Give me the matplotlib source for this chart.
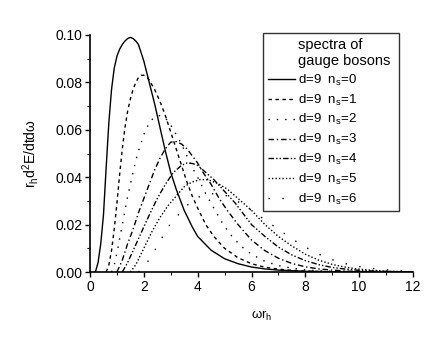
import matplotlib
matplotlib.use('Agg')
import matplotlib.pyplot as plt
from matplotlib.ticker import MultipleLocator

plt.rcParams['font.family'] = ['Liberation Sans', 'DejaVu Sans']
plt.rcParams['mathtext.fontset'] = 'custom'
plt.rcParams['mathtext.rm'] = 'Liberation Sans'
plt.rcParams['mathtext.it'] = 'Liberation Sans'

# ---- data (x = omega*r_h, y = r_h d2E/dtdw) ----
x_n0 = [0.2, 0.3, 0.4, 0.5, 0.6, 0.7, 0.8, 0.9, 1.0, 1.1, 1.2, 1.3, 1.4, 1.5, 1.6, 1.7, 1.8,
        2.0, 2.2, 2.4, 2.6, 2.8, 3.0, 3.2, 3.5, 3.8, 4.0, 4.5, 5.0, 5.5, 6.0, 6.5, 7.0, 8.0, 9.0, 12.0]
y_n0 = [0, 0.004, 0.012, 0.024, 0.044, 0.063, 0.077, 0.086, 0.091, 0.094, 0.096, 0.0975, 0.0985,
        0.099, 0.0985, 0.0975, 0.096, 0.089, 0.080, 0.071, 0.061, 0.051, 0.042, 0.035, 0.026,
        0.019, 0.015, 0.0092, 0.0056, 0.0035, 0.0021, 0.0013, 0.0008, 0.0003, 0.0001, 0]

x_n1 = [0.6, 0.7, 0.8, 0.9, 1.0, 1.1, 1.2, 1.3, 1.4, 1.5, 1.6, 1.7, 1.8, 1.9, 2.0, 2.1, 2.2,
        2.4, 2.6, 2.8, 3.0, 3.2, 3.4, 3.6, 3.8, 4.0, 4.3, 4.6, 5.0, 5.5, 6.0, 6.5, 7.0, 7.5, 8.0, 9.0, 12.0]
y_n1 = [0, 0.003, 0.009, 0.018, 0.029, 0.041, 0.052, 0.061, 0.068, 0.073, 0.077, 0.080, 0.082,
        0.083, 0.083, 0.0825, 0.081, 0.077, 0.072, 0.066, 0.059, 0.052, 0.045, 0.038, 0.032,
        0.027, 0.020, 0.015, 0.010, 0.006, 0.0035, 0.002, 0.0012, 0.0007, 0.0004, 0.0001, 0]

x_n2 = [0.8, 0.9, 1.0, 1.1, 1.2, 1.3, 1.4, 1.5, 1.6, 1.7, 1.8, 2.0, 2.2, 2.4, 2.6, 2.8, 3.0,
        3.2, 3.4, 3.6, 3.8, 4.0, 4.3, 4.6, 4.9, 5.2, 5.6, 6.0, 6.5, 7.0, 7.5, 8.0, 8.5, 9.0, 10.0, 12.0]
y_n2 = [0, 0.003, 0.008, 0.014, 0.020, 0.026, 0.032, 0.037, 0.042, 0.047, 0.051, 0.058, 0.063,
        0.0655, 0.066, 0.065, 0.062, 0.058, 0.054, 0.049, 0.044, 0.040, 0.033, 0.027, 0.021,
        0.016, 0.011, 0.0075, 0.0045, 0.0027, 0.0016, 0.0009, 0.0005, 0.0003, 0.0001, 0]

x_n3 = [1.0, 1.2, 1.4, 1.6, 1.8, 2.0, 2.2, 2.4, 2.6, 2.8, 3.0, 3.2, 3.4, 3.6, 3.8, 4.0, 4.2,
        4.5, 4.8, 5.1, 5.5, 6.0, 6.5, 7.0, 7.5, 8.0, 8.5, 9.0, 9.5, 10.0, 12.0]
y_n3 = [0, 0.005, 0.012, 0.018, 0.025, 0.031, 0.037, 0.043, 0.048, 0.052, 0.0548, 0.055, 0.054,
        0.052, 0.049, 0.046, 0.042, 0.037, 0.031, 0.026, 0.020, 0.0135, 0.009, 0.0058, 0.0036,
        0.0022, 0.0013, 0.0008, 0.0004, 0.0002, 0]

x_n4 = [1.2, 1.4, 1.6, 1.8, 2.0, 2.2, 2.5, 2.8, 3.1, 3.4, 3.6, 3.8, 4.0, 4.3, 4.6, 5.0, 5.4,
        5.8, 6.0, 6.5, 7.0, 7.5, 8.0, 8.5, 9.0, 9.5, 10.0, 10.5, 12.0]
y_n4 = [0, 0.004, 0.009, 0.014, 0.019, 0.024, 0.031, 0.037, 0.042, 0.045, 0.046, 0.0458, 0.045,
        0.042, 0.039, 0.034, 0.029, 0.023, 0.020, 0.015, 0.0105, 0.0072, 0.0048, 0.0031, 0.0019,
        0.0012, 0.0007, 0.0004, 0]

x_n5 = [1.5, 1.7, 2.0, 2.3, 2.6, 2.9, 3.2, 3.5, 3.8, 4.1, 4.3, 4.5, 4.8, 5.1, 5.5, 6.0, 6.5,
        7.0, 7.5, 8.0, 8.5, 9.0, 9.5, 10.0, 10.5, 11.0, 12.0]
y_n5 = [0, 0.003, 0.010, 0.017, 0.023, 0.028, 0.032, 0.036, 0.038, 0.039, 0.039, 0.0385, 0.037,
        0.035, 0.031, 0.026, 0.020, 0.015, 0.011, 0.0075, 0.005, 0.0032, 0.002, 0.0012, 0.0007,
        0.0004, 0]

x_n6 = [1.8, 2.0, 2.3, 2.6, 2.9, 3.2, 3.5, 3.8, 4.1, 4.4, 4.7, 5.0, 5.3, 5.6, 6.0, 6.5, 7.0,
        7.5, 8.0, 8.5, 9.0, 9.5, 10.0, 10.5, 11.0, 11.5, 12.0]
y_n6 = [0, 0.002, 0.007, 0.013, 0.019, 0.023, 0.027, 0.030, 0.032, 0.033, 0.033, 0.0325, 0.031,
        0.029, 0.026, 0.022, 0.018, 0.014, 0.0105, 0.0075, 0.0052, 0.0035, 0.0023, 0.0015,
        0.0009, 0.0005, 0.0002]

n_s = [0, 1, 2, 3, 4, 5, 6]

series = [
    (x_n0, y_n0, '-'),
    (x_n1, y_n1, (0, (2.5, 2.5))),
    (x_n2, y_n2, (0, (1, 5))),
    (x_n3, y_n3, (0, (4, 2, 1, 2))),
    (x_n4, y_n4, (0, (4, 1.5, 1, 1.5, 1, 1.5))),
    (x_n5, y_n5, (0, (1, 1.5))),
    (x_n6, y_n6, (0, (1, 9))),
]

fig = plt.figure(figsize=(4.43, 3.43), dpi=100)
ax = fig.add_axes([90 / 443, 1 - 272 / 343, 323 / 443, 237 / 343])

for (xs, ys, ls), n in zip(series, n_s):
    ax.plot(xs, ys, color='black', linestyle=ls, linewidth=1.0,
            label=f'd=9  n$_s$={n}')

ax.set_xlim(0, 12)
ax.set_ylim(0, 0.10)
ax.xaxis.set_major_locator(MultipleLocator(2))
ax.xaxis.set_minor_locator(MultipleLocator(1))
ax.yaxis.set_major_locator(MultipleLocator(0.02))
ax.yaxis.set_minor_locator(MultipleLocator(0.01))
ax.yaxis.set_major_formatter(plt.FormatStrFormatter('%.2f'))
ax.tick_params(which='major', direction='out', length=3.5, width=1, labelsize=10, pad=2)
ax.tick_params(which='minor', direction='out', length=2, width=0.8)
ax.spines['top'].set_visible(False)
ax.spines['right'].set_visible(False)
ax.spines['left'].set_linewidth(1.2)
ax.spines['bottom'].set_linewidth(1.2)

ax.set_xlabel(r'$\omega$r$_h$', fontsize=9.5)
ax.xaxis.set_label_coords(0.53, -0.155)
ax.set_ylabel(r'r$_h$d$^2$E/dtd$\omega$', fontsize=10, labelpad=10)

# legend box spans the fixed region, title drawn separately (offset to the right like the original)
leg = ax.legend(loc='upper left',
                bbox_to_anchor=(263 / 443, 1 - 213 / 343, 136 / 443, 180 / 343),
                bbox_transform=fig.transFigure, mode='expand', alignment='left',
                title=' \n ', title_fontsize=10.5,
                fontsize=9.5, frameon=True, fancybox=False,
                handlelength=2.1, handletextpad=0.2, labelspacing=0.36,
                borderpad=0.35, borderaxespad=0)
leg.get_frame().set_edgecolor('black')
leg.get_frame().set_linewidth(1.0)
fig.text(298 / 443, 1 - 38 / 343, 'spectra of\ngauge bosons', fontsize=10.5,
         ha='left', va='top', linespacing=1.15)

plt.savefig('out.png', dpi=100)
